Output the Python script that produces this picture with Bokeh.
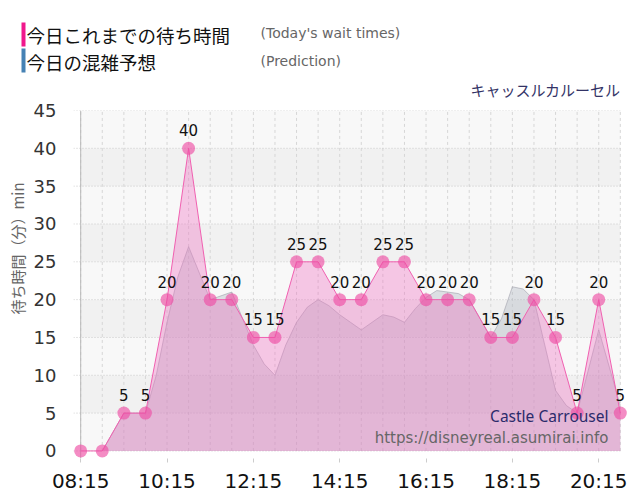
import math
from bokeh.plotting import figure
from bokeh.layouts import column, row
from bokeh.models import Range1d, FixedTicker, Label
from bokeh.core.properties import value
from bokeh.embed import file_html
from bokeh.resources import INLINE

# ---------------- data ----------------
times = ["08:15", "08:45", "09:15", "09:45", "10:15", "10:45", "11:15", "11:45",
         "12:15", "12:45", "13:15", "13:45", "14:15", "14:45", "15:15", "15:45",
         "16:15", "16:45", "17:15", "17:45", "18:15", "18:45", "19:15", "19:45",
         "20:15", "20:45"]
wait = [0, 0, 5, 5, 20, 40, 20, 20, 15, 15, 25, 25, 20, 20, 25, 25,
        20, 20, 20, 15, 15, 20, 15, 5, 20, 5]

pred_times = ["08:45", "09:00", "09:15", "09:30", "09:45", "10:00", "10:15", "10:30",
              "10:45", "11:00", "11:15", "11:30", "11:45", "12:00", "12:15", "12:30",
              "12:45", "13:00", "13:15", "13:30", "13:45", "14:00", "14:15", "14:30",
              "14:45", "15:00", "15:15", "15:30", "15:45", "16:00", "16:15", "16:30",
              "16:45", "17:00", "17:15", "17:30", "17:45", "18:00", "18:15", "18:30",
              "18:45", "19:00", "19:15", "19:30", "19:45", "20:00", "20:15", "20:30",
              "20:45"]
pred = [0, 2.5, 5, 5, 5, 10, 17, 23, 27, 23.5, 20, 20.5, 21, 17.5, 14, 11.5,
        10, 14, 17, 19, 20, 19.2, 18, 17, 16, 17, 18, 17.7, 17, 18.8, 20.3, 21.2,
        21, 20.8, 20, 17.5, 15, 17.5, 21.7, 21.4, 20, 14, 8, 6, 5, 10.5, 16, 11,
        6]

xtick_labels = ["08:15", "10:15", "12:15", "14:15", "16:15", "18:15", "20:15"]
ytick_values = [0, 5, 10, 15, 20, 25, 30, 35, 40, 45]

title_main = "今日これまでの待ち時間"
title_main_en = "(Today's wait times)"
title_pred = "今日の混雑予想"
title_pred_en = "(Prediction)"
attraction_ja = "キャッスルカルーセル"
attraction_en = "Castle Carrousel"
site_url = "https://disneyreal.asumirai.info"
y_label = "待ち時間（分）min"

JP = "Noto Sans CJK JP"


def tmin(s):
    h, m = s.split(":")
    return int(h) * 60 + int(m)


def bare(fig):
    fig.xgrid.visible = False
    fig.ygrid.visible = False
    return fig


# ---------------- header ----------------
HW, HH = 632, 100
head = bare(figure(width=HW, height=HH, output_backend="svg", toolbar_location=None,
                   x_range=Range1d(0, HW), y_range=Range1d(HH, 0),
                   x_axis_location=None, y_axis_location=None,
                   min_border=0, outline_line_color=None,
                   background_fill_color="white", border_fill_color="white"))
head.quad(left=[21, 21], right=[25, 25], top=[22, 48], bottom=[46, 72],
          fill_color=["#f0188c", "#4682b4"], line_color=None)
head.text(x=[26, 26], y=[34, 61], text=[title_main, title_pred],
          text_font=value(JP), text_font_size="18.5px", text_color="#111111",
          text_baseline="middle", text_align="left")
head.text(x=[260, 260], y=[32, 60], text=[title_main_en, title_pred_en],
          text_font=value("DejaVu Sans"), text_font_size="14px", text_color="#666666",
          text_baseline="middle", text_align="left")
head.text(x=[620], y=[89], text=[attraction_ja], text_font=value(JP),
          text_font_size="15px", text_color="#333366", text_baseline="middle",
          text_align="right")

# ---------------- y label strip ----------------
MH = 396
yl = bare(figure(width=30, height=MH, output_backend="svg", toolbar_location=None,
                 x_range=Range1d(0, 30), y_range=Range1d(MH, 0),
                 x_axis_location=None, y_axis_location=None,
                 min_border=0, outline_line_color=None,
                 background_fill_color="white", border_fill_color="white"))
yl.text(x=[16.5], y=[257 - HH], text=[y_label], angle=math.pi / 2,
        text_font=value(JP), text_font_size="15px", text_color="#666666",
        text_align="center", text_baseline="middle")

# ---------------- main chart ----------------
wx = [tmin(t) for t in times]
px = [tmin(t) for t in pred_times]
x0, x1 = wx[0], wx[-1]

p = bare(figure(width=602, height=MH, output_backend="svg", toolbar_location=None,
                x_range=Range1d(x0 - 10, x1 + 10), y_range=Range1d(-1, ytick_values[-1]),
                min_border_left=43, min_border_right=5, min_border_top=10,
                min_border_bottom=38, outline_line_color=None,
                background_fill_color="white", border_fill_color="white"))

band_bottom = ytick_values[:-1]
band_top = ytick_values[1:]
n = len(band_bottom)
band_col = ["#f8f8f8" if ((n - 1 - i) % 2 == 0) else "#f1f1f1" for i in range(n)]
p.quad(left=x0, right=x1, bottom=band_bottom, top=band_top, fill_color=band_col,
       line_color=None)

p.segment(x0=wx, x1=wx, y0=0, y1=ytick_values[-1], line_color="#d6d6d6",
          line_dash="3 3", line_width=1)
p.segment(x0=x0 - 10, x1=x1, y0=ytick_values, y1=ytick_values, line_color="#c8c8c8",
          line_dash="1 2", line_width=1)
p.segment(x0=[x0], x1=[x0], y0=[-1], y1=[ytick_values[-1]], line_color="#b8b8b8",
          line_width=1)

# prediction
p.varea(x=px, y1=0, y2=pred, fill_color="#a2aab6", fill_alpha=0.32)
p.line(x=px, y=pred, line_color="#a0a0ac", line_alpha=0.6, line_width=1)

# today's wait times
p.varea(x=wx, y1=0, y2=wait, fill_color="#f073c3", fill_alpha=0.38)
p.line(x=wx, y=wait, line_color="#f060b0", line_width=1)
p.scatter(x=wx, y=wait, size=13, fill_color="#ee4fa5", fill_alpha=0.65,
          line_color=None)
lx = [x for x, v in zip(wx, wait) if v > 0]
lv = [v for v in wait if v > 0]
p.text(x=lx, y=lv, text=[str(v) for v in lv], text_align="center",
       text_baseline="middle", y_offset=-18, text_font=value("DejaVu Sans"),
       text_font_size="15px", text_color="#111111")

p.add_layout(Label(x=535, y=43, x_units="screen", y_units="screen", text=attraction_en,
                   text_font_size="15.5px", text_color="#2b2b6b", text_font="Noto Sans",
                   text_align="right", text_baseline="middle"))
p.add_layout(Label(x=535, y=21, x_units="screen", y_units="screen", text=site_url,
                   text_font_size="15px", text_color="#666666", text_font="DejaVu Sans",
                   text_align="right", text_baseline="middle"))

p.xaxis.ticker = FixedTicker(ticks=[tmin(t) for t in xtick_labels])
p.xaxis.major_label_overrides = {tmin(t): t for t in xtick_labels}
p.xaxis.axis_line_color = None
p.xaxis.major_tick_line_color = "#cccccc"
p.xaxis.major_tick_out = 4
p.xaxis.major_tick_in = 0
p.xaxis.minor_tick_line_color = None
p.xaxis.major_label_standoff = 6
p.xaxis.major_label_text_font = "DejaVu Sans"
p.xaxis.major_label_text_font_size = "20px"
p.xaxis.major_label_text_color = "#111111"

p.yaxis.ticker = FixedTicker(ticks=ytick_values)
p.yaxis.axis_line_color = None
p.yaxis.major_tick_line_color = None
p.yaxis.minor_tick_line_color = None
p.yaxis.major_label_standoff = 11
p.yaxis.major_label_text_font = "DejaVu Sans"
p.yaxis.major_label_text_font_size = "18px"
p.yaxis.major_label_text_color = "#333333"

layout = column(head, row(yl, p, spacing=0), spacing=0)

open("out.html", "w").write(file_html(layout, INLINE))
